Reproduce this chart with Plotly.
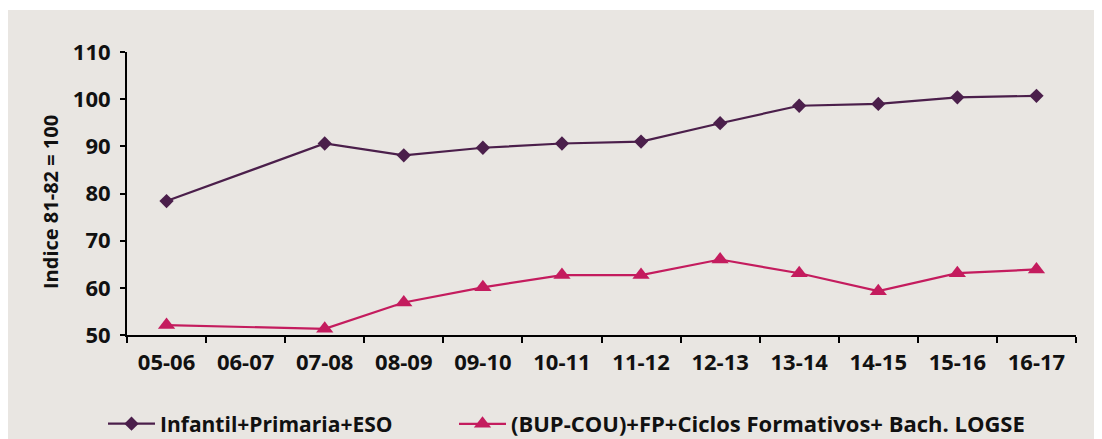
import plotly.graph_objects as go

categories = ["05-06", "06-07", "07-08", "08-09", "09-10", "10-11",
              "11-12", "12-13", "13-14", "14-15", "15-16", "16-17"]
infantil = [78.4, None, 90.6, 88.1, 89.7, 90.6, 91.0, 94.9, 98.6, 99.0, 100.4, 100.7]
bup = [52.1, None, 51.3, 56.9, 60.1, 62.7, 62.7, 66.0, 63.1, 59.3, 63.1, 63.9]
y_ticks = [50, 60, 70, 80, 90, 100, 110]

name1 = "Infantil+Primaria+ESO"
name2 = "(BUP-COU)+FP+Ciclos Formativos+ Bach. LOGSE"
y_title = "Indice 81-82 = 100"

C1 = "#4b1f4b"
C2 = "#c41c5e"
BG = "#e9e6e2"
FONT = "Open Sans"
TXT = "#111111"

# page body has an 8px margin; figure coords = screen - 8
OFF = 8
W, H = 1102, 439
px_l, px_r, px_t, px_b = 127 - OFF, 1076 - OFF, 52 - OFF, 335 - OFF
L, R, T, B = px_l, W - px_r, px_t, H - px_b
pw, ph = px_r - px_l, px_b - px_t


def sx(x):  # screen x -> paper x
    return (x - OFF - px_l) / pw


def sy(y):  # screen y -> paper y
    return (px_b - (y - OFF)) / ph


fig = go.Figure()
fig.add_trace(go.Scatter(
    x=categories, y=infantil, name=name1, mode="lines+markers",
    connectgaps=True, legend="legend",
    line=dict(color=C1, width=2.2),
    marker=dict(symbol="diamond", size=11, color=C1),
))
fig.add_trace(go.Scatter(
    x=categories, y=bup, name=name2, mode="lines+markers",
    connectgaps=True, legend="legend2",
    line=dict(color=C2, width=2.2),
    marker=dict(symbol="triangle-up", size=15, color=C2),
))

# extra white strip at the very top (reference grey starts at y=10)
fig.add_shape(type="rect", xref="paper", yref="paper", layer="below",
              x0=sx(-20), x1=sx(W + 20), y0=sy(10), y1=sy(-10),
              fillcolor="white", line=dict(width=0))

fig.add_annotation(
    text=y_title, textangle=-90, showarrow=False,
    xref="paper", yref="paper", x=sx(50), y=sy(202),
    xanchor="center", yanchor="middle",
    font=dict(family=FONT, size=20, color=TXT, weight="bold"),
)

leg_common = dict(
    orientation="h", xanchor="left", yanchor="middle",
    bgcolor="rgba(0,0,0,0)",
    itemwidth=47,
)

fig.update_layout(
    width=W, height=H,
    margin=dict(l=L, r=R, t=T, b=B, autoexpand=False),
    paper_bgcolor=BG,
    plot_bgcolor=BG,
    font=dict(family=FONT, size=20, color=TXT, weight="bold"),
    showlegend=True,
    legend=dict(x=sx(103), y=sy(424),
                font=dict(family=FONT, size=21, color=TXT, weight="bold"),
                **leg_common),
    legend2=dict(x=sx(454), y=sy(424),
                 font=dict(family=FONT, size=22, color=TXT, weight="bold"),
                 **leg_common),
)
fig.update_xaxes(
    type="category", categoryorder="array", categoryarray=categories,
    range=[-0.5, len(categories) - 0.5],
    showline=True, linecolor="black", linewidth=2,
    ticks="outside", ticklen=6, tickwidth=2, tickcolor="black",
    tickson="boundaries", showgrid=False, zeroline=False,
    ticklabelstandoff=7,
    tickfont=dict(family=FONT, size=22, color=TXT, weight="bold"),
)
fig.update_yaxes(
    range=[50, 110], tickvals=y_ticks, ticktext=[str(v) for v in y_ticks],
    showline=True, linecolor="black", linewidth=2,
    ticks="outside", ticklen=5, tickwidth=2, tickcolor="black",
    showgrid=False, zeroline=False,
    ticklabelstandoff=5,
    tickfont=dict(family=FONT, size=22, color=TXT, weight="bold"),
)

fig.write_html("out.html")
